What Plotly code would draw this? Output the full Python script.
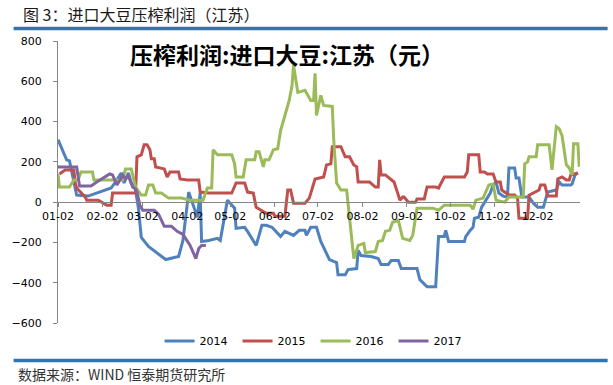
import plotly.graph_objects as go

# ---------------- data ----------------
tick_labels = ["01-02", "02-02", "03-02", "04-02", "05-02", "06-02",
               "07-02", "08-02", "09-02", "10-02", "11-02", "12-02"]

dates_2014 = ["01-02","01-08","01-10","01-15","01-23","02-08","02-11","02-15","02-17","02-20",
              "02-22","02-24","02-25","02-27","03-01","03-06","03-18","03-27","03-30","04-03",
              "04-05","04-09","04-11","04-12","04-17","04-23","04-25","04-30","05-05","05-06",
              "05-12","05-14","05-20","05-24","05-27","05-31","06-06","06-09","06-15","06-19",
              "06-23","06-24","06-27","07-01","07-04","07-07","07-10","07-15","07-16","07-21",
              "07-23","07-29","07-30","08-01","08-08","08-13","08-15","08-20","08-22","08-27",
              "08-29","09-09","09-11","09-16","09-22","09-24","09-28","09-29","10-01","10-12",
              "10-13","10-16","10-18","10-19","10-22","10-24","10-27","10-30","11-01","11-03",
              "11-05","11-08","11-11","11-12","11-16","11-17","11-19","11-21","11-26","11-29",
              "12-02","12-06","12-07","12-09","12-15","12-17","12-19","12-25","12-26","12-28",
              "12-30"]
values_2014 = [310,210,205,35,30,70,100,145,95,145,
               95,85,60,-30,-175,-220,-285,-270,-190,50,
               10,-75,45,-195,-190,-180,-190,10,-30,-130,
               -125,-145,-215,-115,-115,-125,-170,-145,-165,-140,
               -140,-165,-125,-125,-195,-240,-285,-300,-360,-360,
               -335,-330,-240,-265,-270,-280,-310,-310,-290,-290,
               -330,-330,-385,-420,-420,-170,-170,-140,-195,-195,
               -170,-140,-125,-80,-75,-25,10,45,85,100,
               45,30,25,170,170,120,120,25,25,-5,
               -25,-25,0,50,60,100,85,85,90,135,
               145]

dates_2015 = ["01-03","01-07","01-13","01-14","01-15","01-21","01-22","01-30","02-05","02-08",
              "02-09","02-25","02-26","03-01","03-03","03-05","03-07","03-08","03-10","03-11",
              "03-17","03-19","03-21","03-27","03-28","04-02","04-10","04-11","04-17","05-03",
              "05-06","05-12","05-14","05-18","05-20","05-27","06-01","06-02","06-09","06-11",
              "06-13","06-15","06-23","06-26","06-30","07-06","07-08","07-11","07-12","07-18",
              "07-21","07-24","07-27","07-29","07-30","08-07","08-11","08-13","08-14","08-15",
              "08-18","08-24","08-27","08-28","08-30","08-31","09-03","09-08","09-09","09-14",
              "09-16","09-22","09-24","09-28","10-12","10-14","10-15","10-22","10-23","10-26",
              "10-28","11-01","11-03","11-06","11-07","11-09","11-12","11-16","11-18","11-19",
              "11-25","11-26","11-30","12-03","12-04","12-07","12-09","12-15","12-16","12-19",
              "12-22","12-24","12-25","12-30"]
values_2015 = [140,160,160,95,70,25,10,10,-15,-15,
               45,45,225,235,285,285,260,215,215,175,
               165,125,150,150,115,110,110,50,45,45,
               95,95,50,45,-25,-55,-55,-70,-70,60,
               60,-5,-5,20,115,125,185,190,275,275,
               225,225,185,175,100,100,75,75,210,135,
               135,100,35,10,25,25,0,0,15,15,
               75,75,70,125,125,150,235,235,150,150,
               140,140,100,100,60,50,35,35,20,-80,
               -80,35,50,60,85,85,30,30,115,125,
               110,110,135,145]

dates_2016 = ["01-02","01-03","01-10","01-13","01-16","01-18","01-26","01-27","02-16","02-18",
              "02-22","02-25","03-01","03-04","03-06","03-09","03-11","03-15","03-20","03-29",
              "04-04","04-13","04-16","04-19","04-20","04-23","05-03","05-05","05-06","05-11",
              "05-13","05-19","05-20","05-22","05-25","05-26","05-29","06-01","06-04","06-06",
              "06-09","06-12","06-14","06-15","06-18","06-23","06-27","06-29","06-30","07-01",
              "07-04","07-06","07-12","07-13","07-15","07-18","07-22","07-27","07-30","08-03",
              "08-04","08-11","08-13","08-16","08-18","08-21","08-23","08-27","08-30","09-04",
              "09-06","09-09","09-20","09-24","09-28","10-16","10-18","10-20","10-25","10-29",
              "11-01","11-03","11-09","11-12","11-22","11-23","11-25","11-26","12-01","12-02",
              "12-10","12-12","12-15","12-17","12-19","12-22","12-24","12-26","12-27","12-30",
              "12-31"]
values_2016 = [140,75,75,110,110,150,150,110,110,165,
               165,75,35,35,85,85,45,45,20,20,
               10,10,70,70,260,235,235,190,125,125,
               210,210,250,250,175,210,210,260,265,355,
               430,505,580,680,545,555,505,505,640,430,
               530,480,475,310,95,60,60,-280,-215,-205,
               -250,-245,-195,-190,-145,-140,-100,-90,-180,-190,
               -165,-30,-30,-40,-15,-15,-35,10,20,85,
               90,10,0,25,25,190,200,225,225,285,
               285,160,375,365,330,185,170,135,290,290,
               175]

dates_2017 = ["01-02","01-15","01-17","01-25","01-29","02-07","02-09","02-12","02-15","02-16",
              "02-18","02-20","02-23","02-25","02-26","02-28","03-02","03-10","03-13","03-17",
              "03-22","03-26","03-30","04-04","04-08","04-10","04-12","04-15"]
values_2017 = [175,175,80,80,100,140,135,85,120,135,
               115,130,75,65,50,-15,-40,-40,-60,-120,
               -120,-145,-160,-215,-280,-230,-215,-215]

series = [
    ("2014", dates_2014, values_2014, "#4F81BD"),
    ("2015", dates_2015, values_2015, "#C0504D"),
    ("2016", dates_2016, values_2016, "#9BBB59"),
    ("2017", dates_2017, values_2017, "#8064A2"),
]

BASE_YEAR = "2001-"

# ---------------- figure ----------------
fig = go.Figure()
for name, d, v, color in series:
    assert len(d) == len(v), name
    fig.add_trace(go.Scatter(
        x=[BASE_YEAR + s for s in d], y=v, name=name, mode="lines",
        line=dict(color=color, width=3), hoverinfo="skip"))

W, H = 613, 385
L, R, T, B = 51, 33, 41, 62
pw, ph = W - L - R, H - T - B


def px_x(x):
    return (x - L) / pw


def px_y(y):
    return (H - B - y) / ph


axis_font = dict(family="DejaVu Sans, Arial, sans-serif", size=11, color="#000000")
ymin, ymax = -600, 800

fig.update_layout(
    width=W, height=H,
    margin=dict(l=L, r=R, t=T, b=B),
    paper_bgcolor="white", plot_bgcolor="white",
    showlegend=True,
    legend=dict(orientation="h", x=px_x(312), xanchor="center",
                y=px_y(341), yanchor="middle",
                font=dict(family="DejaVu Sans, Arial, sans-serif", size=11, color="#000"),
                entrywidth=33, entrywidthmode="pixels",
                bgcolor="rgba(0,0,0,0)"),
    xaxis=dict(
        type="date",
        range=[BASE_YEAR + "01-02", BASE_YEAR + "12-31 12:00"],
        tickvals=[BASE_YEAR + t for t in tick_labels],
        ticktext=tick_labels,
        ticks="outside", ticklen=4, tickcolor="#868686",
        showline=True, linecolor="#868686", linewidth=1,
        showgrid=False, zeroline=False,
        anchor="free", position=(0 - ymin) / (ymax - ymin),
        tickfont=axis_font,
    ),
    yaxis=dict(
        range=[ymin, ymax], dtick=200, tick0=0,
        ticks="outside", ticklen=4, tickcolor="#868686",
        showline=True, linecolor="#868686", linewidth=1,
        showgrid=False, zeroline=False,
        tickfont=axis_font, ticklabelstandoff=9,
    ),
)

# header text and rules
fig.add_annotation(text="图 3：进口大豆压榨利润（江苏）", xref="paper", yref="paper",
                   x=px_x(14), y=px_y(14), xanchor="left", yanchor="middle",
                   showarrow=False,
                   font=dict(family="Noto Sans CJK SC", size=16, color="#1a1a1a"))
fig.add_shape(type="line", xref="paper", yref="paper",
              x0=px_x(6), x1=px_x(608), y0=px_y(28.5), y1=px_y(28.5),
              line=dict(color="#2E75B6", width=3.5))
fig.add_shape(type="line", xref="paper", yref="paper",
              x0=px_x(6), x1=px_x(608), y0=px_y(360.5), y1=px_y(360.5),
              line=dict(color="#2E75B6", width=3.5))
fig.add_annotation(text="数据来源：WIND 恒泰期货研究所", xref="paper", yref="paper",
                   x=px_x(8), y=px_y(373.5), xanchor="left", yanchor="middle",
                   showarrow=False,
                   font=dict(family="Noto Sans CJK SC", size=14, color="#333333"))

# chart title inside plot
fig.add_annotation(text="<b>压榨利润:进口大豆:江苏（元）</b>", xref="paper", yref="paper",
                   x=px_x(283), y=px_y(54), xanchor="center", yanchor="middle",
                   showarrow=False,
                   font=dict(family="Noto Sans CJK SC", size=23, color="#000000"))

fig.write_html("out.html", config={"displayModeBar": False},
               post_script="document.body.style.margin='0';document.body.style.padding='0';")
